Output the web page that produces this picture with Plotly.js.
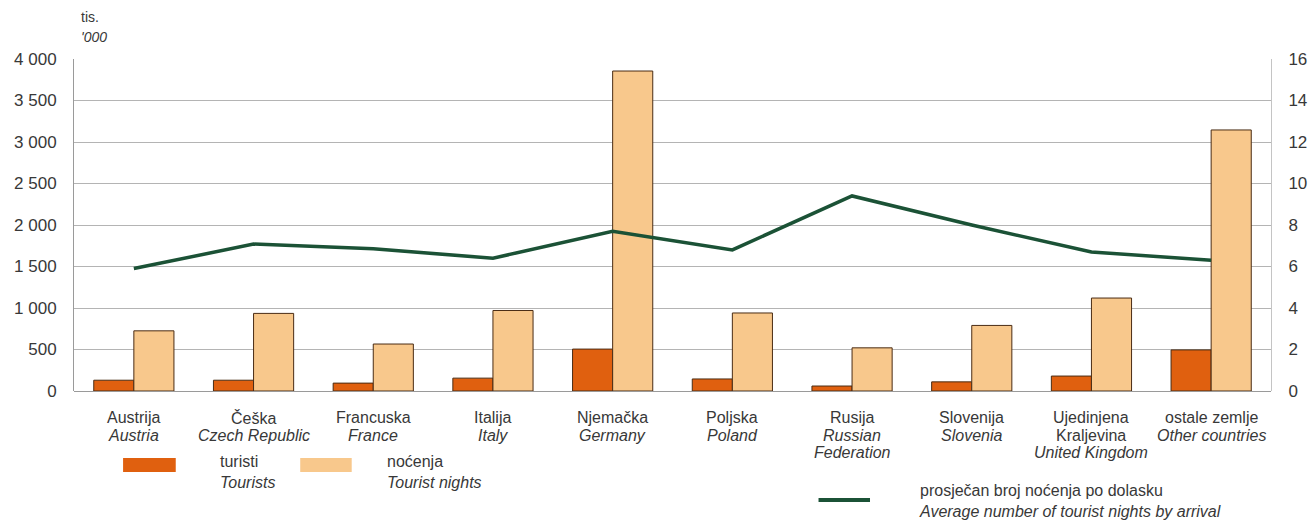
<!DOCTYPE html>
<html><head><meta charset="utf-8">
<script src="https://cdn.plot.ly/plotly-3.0.1.min.js"></script>
<style>body{margin:0;background:#fff}#c{width:1311px;height:527px}</style>
</head><body><div id="c"></div>
<script>
const categoriesHr = [["Austrija"],["Češka"],["Francuska"],["Italija"],["Njemačka"],["Poljska"],["Rusija"],["Slovenija"],["Ujedinjena","Kraljevina"],["ostale zemlje"]];
const categoriesEn = [["Austria"],["Czech Republic"],["France"],["Italy"],["Germany"],["Poland"],["Russian","Federation"],["Slovenia"],["United Kingdom"],["Other countries"]];
const tourists = [130,130,95,155,505,145,60,110,180,495];
const nights = [725,935,566,970,3855,940,520,790,1120,3145];
const avgNights = [5.9,7.08,6.85,6.4,7.7,6.8,9.4,8.0,6.7,6.3];
const leftTicks = [0,500,1000,1500,2000,2500,3000,3500,4000];
const leftTickText = ["0","500","1 000","1 500","2 000","2 500","3 000","3 500","4 000"];
const rightTicks = [0,2,4,6,8,10,12,14,16];

const idx = categoriesHr.map((_, i) => i);
const font = "Liberation Sans, Arial, sans-serif";
const txtCol = "#383838";

const traces = [
  {type:"bar", x: idx, y: tourists, name:"turisti", marker:{color:"#E0600F", line:{color:"#4a2c14", width:1}}, hoverinfo:"y"},
  {type:"bar", x: idx, y: nights, name:"noćenja", marker:{color:"#F8C88C", line:{color:"#4a2c14", width:1}}, hoverinfo:"y"},
  {type:"scatter", mode:"lines", x: idx, y: avgNights, yaxis:"y2", name:"prosječan", line:{color:"#1B5236", width:3.5}, hoverinfo:"y"}
];

// category labels: each line as its own annotation (tight line spacing as in the reference)
const lineY = [-0.081, -0.134, -0.186];
const catAnn = [];
idx.forEach(i => {
  const lines = categoriesHr[i].concat(categoriesEn[i].map(t => "<i>" + t + "</i>"));
  lines.forEach((t, k) => catAnn.push({xref:"x", yref:"paper", x:i, y:lineY[k], xanchor:"center", yanchor:"middle",
    text:t, showarrow:false, font:{size:16, color:txtCol}}));
});

const layout = {
  width:1311, height:527,
  margin:{l:74, r:40, t:59, b:136},
  paper_bgcolor:"#fff", plot_bgcolor:"#fff",
  showlegend:false,
  barmode:"group", bargap:0.33, bargroupgap:0,
  font:{family:font, size:16, color:txtCol},
  xaxis:{range:[-0.5, 9.5], tickmode:"array", tickvals: idx, showticklabels:false, showgrid:false, zeroline:false,
         showline:false, ticks:"", fixedrange:true},
  yaxis:{range:[0,4000], tickmode:"array", tickvals:leftTicks, ticktext:leftTickText, showgrid:true, gridcolor:"#b4b4b4", gridwidth:1,
         zeroline:true, zerolinecolor:"#9a9a9a", zerolinewidth:1, showline:true, linecolor:"#9a9a9a", linewidth:1,
         ticks:"", ticklabelstandoff:13, tickfont:{size:17, color:txtCol}},
  yaxis2:{range:[0,16], overlaying:"y", side:"right", tickmode:"array", tickvals:rightTicks, showgrid:false, zeroline:false,
         showline:true, linecolor:"#c4c4c4", linewidth:1, ticks:"", ticklabelstandoff:13, tickfont:{size:17, color:txtCol}},
  annotations: catAnn.concat([
    {xref:"paper", yref:"paper", x:0.004, y:1.126, xanchor:"left", yanchor:"middle", text:"tis.", showarrow:false, font:{size:14, color:txtCol}},
    {xref:"paper", yref:"paper", x:0.004, y:1.066, xanchor:"left", yanchor:"middle", text:"<i>'000</i>", showarrow:false, font:{size:14, color:txtCol}},
    {xref:"paper", yref:"paper", x:0.120, y:-0.244, xanchor:"left", yanchor:"middle", align:"left", text:"turisti<br><i>Tourists</i>", showarrow:false, font:{size:16, color:txtCol}},
    {xref:"paper", yref:"paper", x:0.260, y:-0.244, xanchor:"left", yanchor:"middle", align:"left", text:"noćenja<br><i>Tourist nights</i>", showarrow:false, font:{size:16, color:txtCol}},
    {xref:"paper", yref:"paper", x:0.704, y:-0.331, xanchor:"left", yanchor:"middle", align:"left", text:"prosječan broj noćenja po dolasku<br><i>Average number of tourist nights by arrival</i>", showarrow:false, font:{size:16, color:txtCol}}
  ]),
  shapes:[
    {type:"rect", xref:"paper", yref:"paper", x0:0.041, x1:0.085, y0:-0.244, y1:-0.202, fillcolor:"#E0600F", line:{width:0}},
    {type:"rect", xref:"paper", yref:"paper", x0:0.189, x1:0.232, y0:-0.244, y1:-0.202, fillcolor:"#F8C88C", line:{width:0}},
    {type:"line", xref:"paper", yref:"paper", x0:0.622, x1:0.665, y0:-0.328, y1:-0.328, line:{color:"#1B5236", width:4}}
  ]
};
Plotly.newPlot("c", traces, layout, {displayModeBar:false, staticPlot:true});
</script></body></html>
